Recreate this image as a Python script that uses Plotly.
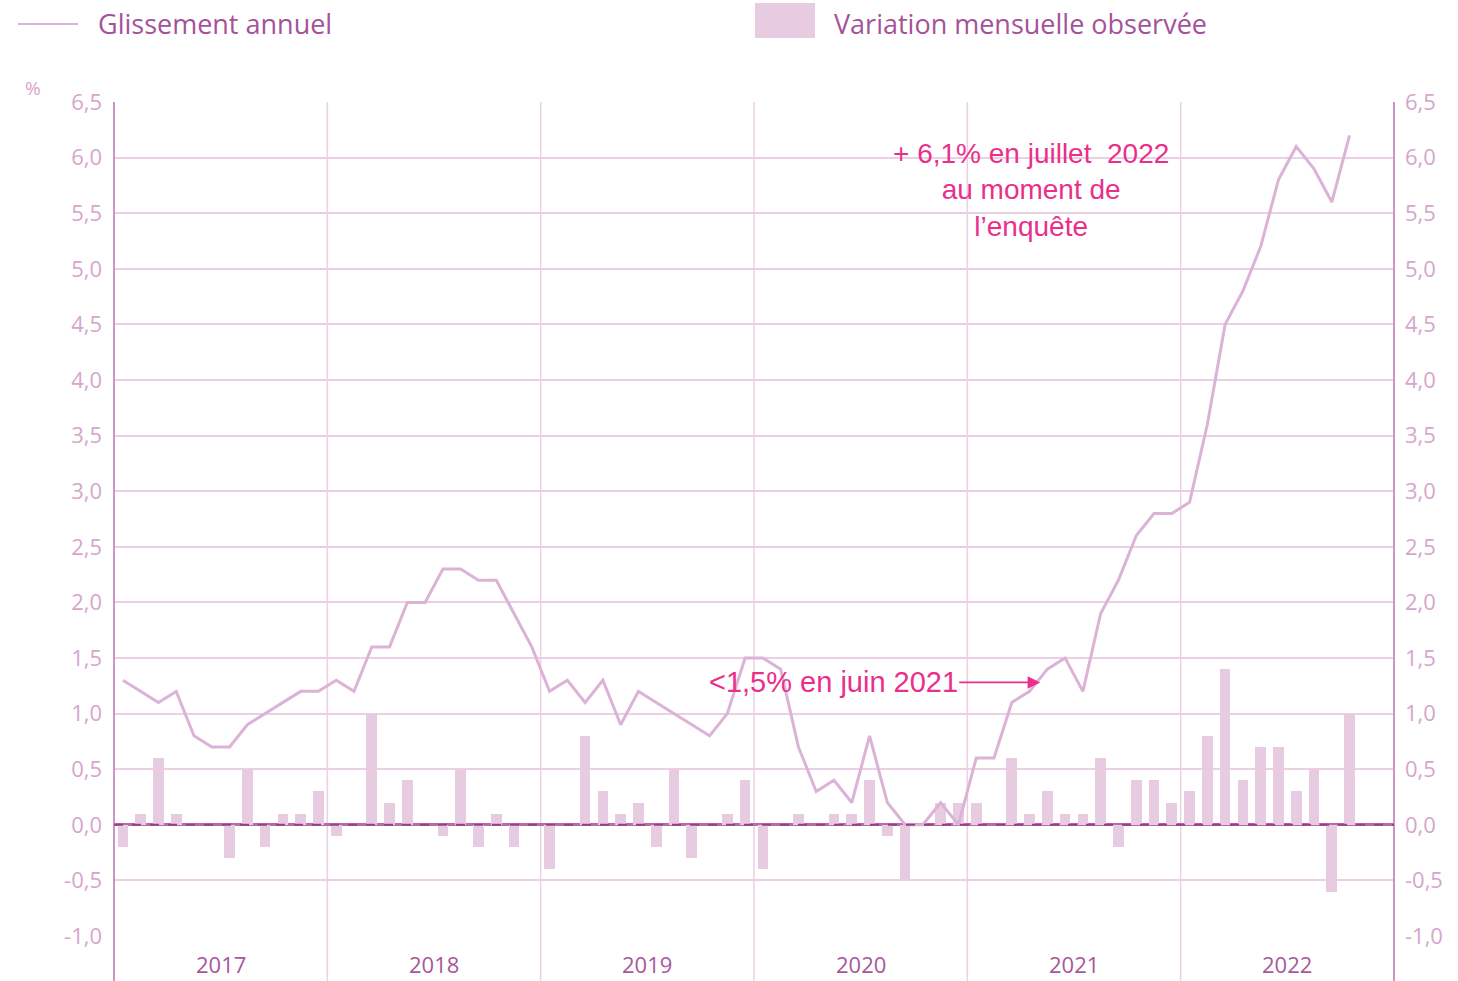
import plotly.graph_objects as go

years = ["2017", "2018", "2019", "2020", "2021", "2022"]

glissement_annuel = [
    1.3, 1.2, 1.1, 1.2, 0.8, 0.7, 0.7, 0.9, 1.0, 1.1, 1.2, 1.2,   # 2017
    1.3, 1.2, 1.6, 1.6, 2.0, 2.0, 2.3, 2.3, 2.2, 2.2, 1.9, 1.6,   # 2018
    1.2, 1.3, 1.1, 1.3, 0.9, 1.2, 1.1, 1.0, 0.9, 0.8, 1.0, 1.5,   # 2019
    1.5, 1.4, 0.7, 0.3, 0.4, 0.2, 0.8, 0.2, 0.0, 0.0, 0.2, 0.0,   # 2020
    0.6, 0.6, 1.1, 1.2, 1.4, 1.5, 1.2, 1.9, 2.2, 2.6, 2.8, 2.8,   # 2021
    2.9, 3.6, 4.5, 4.8, 5.2, 5.8, 6.1, 5.9, 5.6, 6.2,             # 2022
]

variation_mensuelle = [
    -0.2, 0.1, 0.6, 0.1, 0.0, 0.0, -0.3, 0.5, -0.2, 0.1, 0.1, 0.3,   # 2017
    -0.1, 0.0, 1.0, 0.2, 0.4, 0.0, -0.1, 0.5, -0.2, 0.1, -0.2, 0.0,  # 2018
    -0.4, 0.0, 0.8, 0.3, 0.1, 0.2, -0.2, 0.5, -0.3, 0.0, 0.1, 0.4,   # 2019
    -0.4, 0.0, 0.1, 0.0, 0.1, 0.1, 0.4, -0.1, -0.5, 0.0, 0.2, 0.2,   # 2020
    0.2, 0.0, 0.6, 0.1, 0.3, 0.1, 0.1, 0.6, -0.2, 0.4, 0.4, 0.2,     # 2021
    0.3, 0.8, 1.4, 0.4, 0.7, 0.7, 0.3, 0.5, -0.6, 1.0,               # 2022
]

y_ticks = [-1.0, -0.5, 0.0, 0.5, 1.0, 1.5, 2.0, 2.5, 3.0, 3.5, 4.0, 4.5, 5.0, 5.5, 6.0, 6.5]
y_tick_labels = ["-1,0", "-0,5", "0,0", "0,5", "1,0", "1,5", "2,0", "2,5", "3,0",
                 "3,5", "4,0", "4,5", "5,0", "5,5", "6,0", "6,5"]

legend_line = "Glissement annuel"
legend_bar = "Variation mensuelle observée"
note_top = "+ 6,1% en juillet  2022<br>au moment de<br>l’enquête"
note_june = "<1,5% en juin 2021"

months_per_year = 12
n_months = months_per_year * len(years)
x_line = list(range(len(glissement_annuel)))
x_bar = list(range(len(variation_mensuelle)))

LINE_COL = "#dcb3d6"
BAR_COL = "#e6cbe1"
GRID_COL = "#ebcfe5"
AXIS_COL = "#cc94c2"
TICK_COL = "#d6a6cb"
YEAR_COL = "#a8579a"
LEG_COL = "#a4529a"
PINK = "#ea2f8a"
FONT = "Open Sans"

fig = go.Figure()

fig.add_trace(go.Bar(
    x=x_bar, y=variation_mensuelle, marker=dict(color=BAR_COL, line=dict(width=0)),
    width=0.6, name=legend_bar, showlegend=False, hoverinfo="skip",
))
fig.add_trace(go.Scatter(
    x=x_line, y=glissement_annuel, mode="lines", line=dict(color=LINE_COL, width=3),
    name=legend_line, showlegend=False,
))
# invisible trace to activate right axis
fig.add_trace(go.Scatter(
    x=x_line, y=glissement_annuel, mode="lines", line=dict(width=0), opacity=0,
    yaxis="y2", showlegend=False, hoverinfo="skip",
))

shapes = []
bottom_ext = -45 / 834
for k in range(1, len(years)):
    xb = k * months_per_year - 0.5
    shapes.append(dict(
        type="line", xref="x", yref="paper", x0=xb, x1=xb, y0=bottom_ext, y1=1,
        line=dict(color=GRID_COL, width=1.5), layer="below",
    ))
for xp in (0, 1):
    shapes.append(dict(
        type="line", xref="paper", yref="paper", x0=xp, x1=xp, y0=bottom_ext, y1=1,
        line=dict(color=AXIS_COL, width=2), layer="above",
    ))
shapes.append(dict(
    type="line", xref="paper", yref="y", x0=0, x1=1, y0=0, y1=0,
    line=dict(color="#9c3d8a", width=2, dash="dash"), layer="above",
))
shapes.append(dict(
    type="line", xref="paper", yref="paper",
    x0=(18 - 114) / 1280, x1=(78 - 114) / 1280,
    y0=(936 - 24) / 834, y1=(936 - 24) / 834,
    line=dict(color=LINE_COL, width=2),
))
shapes.append(dict(
    type="rect", xref="paper", yref="paper",
    x0=(755 - 114) / 1280, x1=(815 - 114) / 1280,
    y0=(936 - 38) / 834, y1=(936 - 3) / 834,
    line=dict(width=0), fillcolor=BAR_COL,
))

annotations = []
for i, yr in enumerate(years):
    annotations.append(dict(
        x=i * months_per_year + (months_per_year - 1) / 2, xref="x",
        y=(936 - 980) / 834, yref="paper", text=yr, showarrow=False,
        font=dict(family=FONT, size=22, color=YEAR_COL), yanchor="bottom", borderpad=0,
    ))
annotations.append(dict(
    x=(96 - 114) / 1280, y=(936 - 24) / 834, xref="paper", yref="paper",
    text=legend_line, showarrow=False, xanchor="left", yanchor="middle",
    font=dict(family=FONT, size=27, color=LEG_COL),
))
annotations.append(dict(
    x=(832 - 114) / 1280, y=(936 - 24) / 834, xref="paper", yref="paper",
    text=legend_bar, showarrow=False, xanchor="left", yanchor="middle",
    font=dict(family=FONT, size=27, color=LEG_COL),
))
annotations.append(dict(
    x=(33 - 114) / 1280, y=(936 - 88) / 834, xref="paper", yref="paper",
    text="%", showarrow=False, xanchor="center", yanchor="middle",
    font=dict(family=FONT, size=19, color=TICK_COL),
))
annotations.append(dict(
    x=(1031 - 114) / 1280, y=(936 - 190) / 834, xref="paper", yref="paper",
    text=note_top, showarrow=False, xanchor="center", yanchor="middle", align="center",
    font=dict(family="Liberation Sans", size=28, color=PINK),
))
annotations.append(dict(
    x=51.6, y=1.28, xref="x", yref="y",
    text=note_june, showarrow=True, ax=-207, ay=0, axref="pixel", ayref="pixel",
    arrowhead=2, arrowsize=1.4, arrowwidth=1.8, arrowcolor=PINK, standoff=0,
    font=dict(family="Liberation Sans", size=29, color=PINK),
))

fig.update_layout(
    width=1458, height=981,
    margin=dict(l=114, r=64, t=102, b=45),
    paper_bgcolor="white", plot_bgcolor="white",
    bargap=0, showlegend=False,
    shapes=shapes, annotations=annotations,
    xaxis=dict(range=[-0.5, n_months - 0.5], showgrid=False, zeroline=False,
               showticklabels=False, ticks="", showline=False, fixedrange=True),
    yaxis=dict(range=[-1.0, 6.5], tickvals=y_ticks, ticktext=y_tick_labels,
               showgrid=True, gridcolor=GRID_COL, gridwidth=1.5,
               zeroline=True, zerolinecolor="#b96ba9", zerolinewidth=2.5,
               showline=False, ticks="", ticklabelstandoff=11,
               tickfont=dict(family=FONT, size=22, color=TICK_COL)),
    yaxis2=dict(range=[-1.0, 6.5], tickvals=y_ticks, ticktext=y_tick_labels,
                overlaying="y", side="right", showgrid=False, zeroline=False,
                showline=False, ticks="", ticklabelstandoff=10,
                tickfont=dict(family=FONT, size=22, color=TICK_COL)),
)

fig.write_html("out.html", config={"displayModeBar": False},
               post_script="document.body.style.margin='0px';")
